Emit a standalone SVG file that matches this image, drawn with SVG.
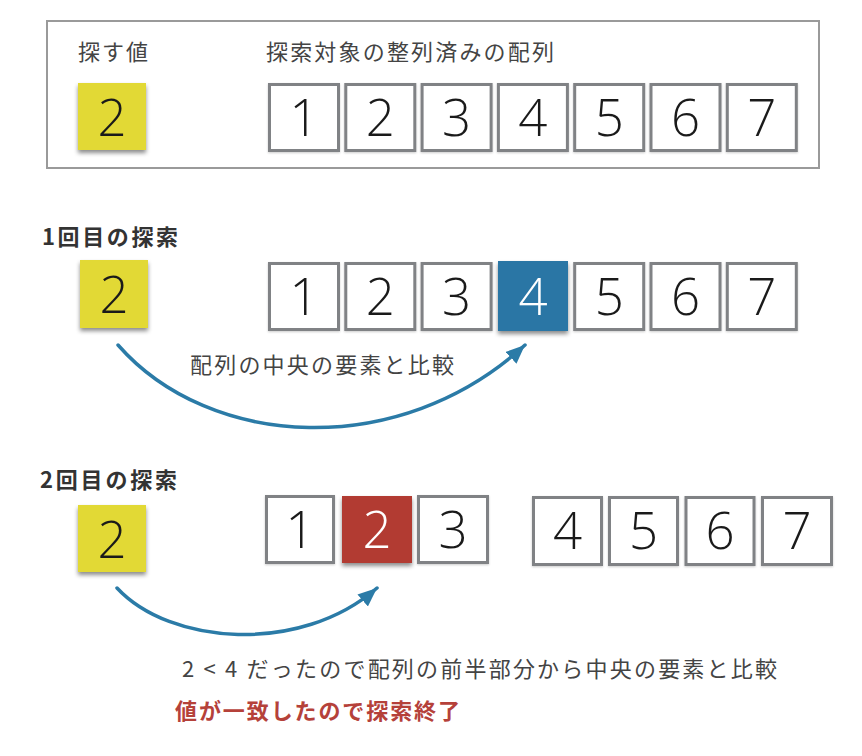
<svg xmlns="http://www.w3.org/2000/svg" width="862" height="756" viewBox="0 0 862 756">
<defs>
<filter id="sh" x="-20%" y="-20%" width="140%" height="150%">
<feDropShadow dx="0" dy="3" stdDeviation="2" flood-color="#000" flood-opacity="0.45"/>
</filter>
<filter id="sh2" x="-20%" y="-20%" width="140%" height="150%">
<feDropShadow dx="0" dy="1" stdDeviation="1" flood-color="#000" flood-opacity="0.2"/>
</filter>
<marker id="ah" markerUnits="userSpaceOnUse" markerWidth="22" markerHeight="18" refX="19" refY="8" orient="auto">
<path d="M0,0 L19,8 L0,16 Z" fill="#2B7BA7"/>
</marker>
</defs>
<style>
.lbl{font-family:"Noto Sans CJK JP","Noto Sans",sans-serif;font-size:22px;fill:#444}
.hd{font-family:"Noto Sans CJK JP","Noto Sans",sans-serif;font-size:22px;font-weight:bold;fill:#333}
.red{font-family:"Noto Sans CJK JP","Noto Sans",sans-serif;font-size:22px;font-weight:bold;fill:#B5413A}
.box{fill:#fff;stroke:#808285;stroke-width:3}
.yel{fill:#E2D935}
.blue{fill:#2B76A5}
.redb{fill:#B23B30}
.num{font-family:"Open Sans","Liberation Sans",Arial,sans-serif;font-weight:300;font-size:51px;fill:#1a1a1a;text-anchor:middle}
.numw{font-family:"Open Sans","Liberation Sans",Arial,sans-serif;font-weight:300;font-size:51px;fill:#fff;text-anchor:middle}
.arr{fill:none;stroke:#2B7BA7;stroke-width:3.5;stroke-linecap:round}
</style>
<rect width="862" height="756" fill="#fff"/>

<g id="frame">
<rect x="47" y="21" width="772" height="147" fill="none" stroke="#9a9a9a" stroke-width="2"/>
<text class="lbl" x="78" y="60" textLength="70" lengthAdjust="spacing">探す値</text>
<text class="lbl" x="266" y="60" textLength="288" lengthAdjust="spacing">探索対象の整列済みの配列</text>
</g>

<g id="target1" filter="url(#sh)">
<rect class="yel" x="78" y="83" width="68" height="67"/>
</g>
<text class="num" x="112" y="136">2</text>

<g id="array1">
<g filter="url(#sh2)">
<rect class="box" x="269.5" y="84.5" width="69" height="66"/>
<rect class="box" x="345.8" y="84.5" width="69" height="66"/>
<rect class="box" x="422.1" y="84.5" width="69" height="66"/>
<rect class="box" x="498.4" y="84.5" width="69" height="66"/>
<rect class="box" x="574.7" y="84.5" width="69" height="66"/>
<rect class="box" x="651" y="84.5" width="69" height="66"/>
<rect class="box" x="727.3" y="84.5" width="69" height="66"/>
</g>
<text class="num" x="304" y="136">1</text>
<text class="num" x="380.3" y="136">2</text>
<text class="num" x="456.6" y="136">3</text>
<text class="num" x="532.9" y="136">4</text>
<text class="num" x="609.2" y="136">5</text>
<text class="num" x="685.5" y="136">6</text>
<text class="num" x="761.8" y="136">7</text>
</g>

<g id="step1-label">
<text class="hd" x="42" y="245" textLength="136" lengthAdjust="spacing">1回目の探索</text>
</g>
<g id="target2" filter="url(#sh)">
<rect class="yel" x="80" y="260" width="68" height="68"/>
</g>
<text class="num" x="114" y="313">2</text>

<g id="array2">
<g filter="url(#sh2)">
<rect class="box" x="269.5" y="263.5" width="69" height="66"/>
<rect class="box" x="345.8" y="263.5" width="69" height="66"/>
<rect class="box" x="422.1" y="263.5" width="69" height="66"/>
<rect class="box" x="574.7" y="263.5" width="69" height="66"/>
<rect class="box" x="651" y="263.5" width="69" height="66"/>
<rect class="box" x="727.3" y="263.5" width="69" height="66"/>
</g>
<rect class="blue" x="498" y="261" width="70" height="70" filter="url(#sh)"/>
<text class="num" x="304" y="315">1</text>
<text class="num" x="380.3" y="315">2</text>
<text class="num" x="456.6" y="315">3</text>
<text class="numw" x="533" y="315">4</text>
<text class="num" x="609.2" y="315">5</text>
<text class="num" x="685.5" y="315">6</text>
<text class="num" x="761.8" y="315">7</text>
</g>
<g id="label1">
<text class="lbl" x="190" y="373" textLength="264" lengthAdjust="spacing">配列の中央の要素と比較</text>
</g>

<g id="step2-label">
<text class="hd" x="40" y="488" textLength="137" lengthAdjust="spacing">2回目の探索</text>
</g>
<g id="target3" filter="url(#sh)">
<rect class="yel" x="78" y="505" width="68" height="67"/>
</g>
<text class="num" x="112" y="558">2</text>

<g id="array3">
<g filter="url(#sh2)">
<rect class="box" x="266.5" y="496.5" width="67" height="66"/>
<rect class="box" x="418.5" y="496.5" width="69" height="66"/>
<rect class="box" x="533.5" y="497.5" width="68" height="67"/>
<rect class="box" x="609.5" y="497.5" width="68" height="67"/>
<rect class="box" x="686" y="497.5" width="68" height="67"/>
<rect class="box" x="762.5" y="497.5" width="69" height="67"/>
</g>
<rect class="redb" x="342" y="496" width="70" height="67" filter="url(#sh)"/>
<text class="num" x="300" y="548">1</text>
<text class="numw" x="377" y="548">2</text>
<text class="num" x="453" y="548">3</text>
<text class="num" x="567.5" y="549">4</text>
<text class="num" x="643.5" y="549">5</text>
<text class="num" x="720" y="549">6</text>
<text class="num" x="797" y="549">7</text>
</g>

<g id="notes">
<text class="lbl" x="182" y="677" textLength="595" lengthAdjust="spacing">2 &lt; 4 だったので配列の前半部分から中央の要素と比較</text>
<text class="red" x="175" y="719" textLength="285" lengthAdjust="spacing">値が一致したので探索終了</text>
</g>

<g id="connectors">
<path class="arr" d="M118,345 C210,450 400,460 525,345" marker-end="url(#ah)"/>
<path class="arr" d="M117,588 C170,645 300,655 377,588" marker-end="url(#ah)"/>
</g>
</svg>
